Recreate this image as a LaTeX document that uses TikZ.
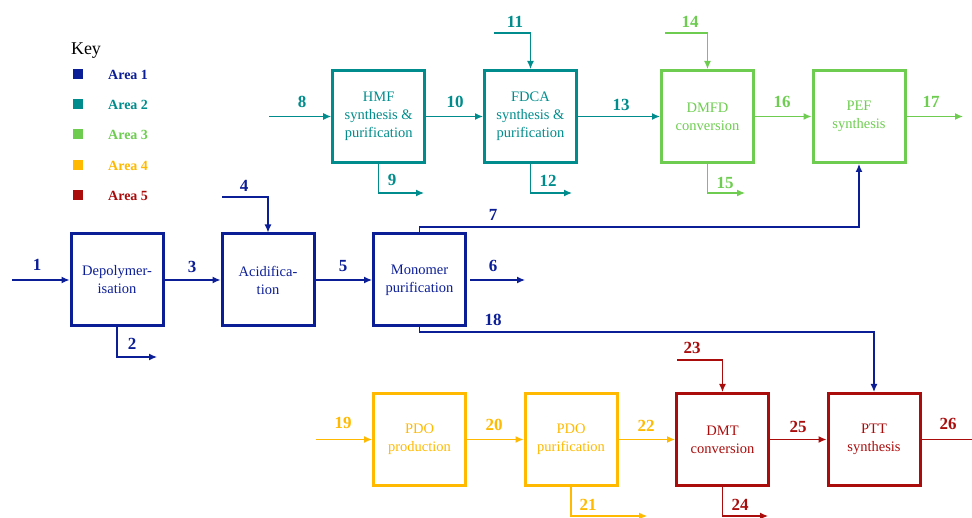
\documentclass[tikz,border=0pt]{standalone}
\usepackage{fontspec}
\setmainfont{Liberation Serif}
\usetikzlibrary{arrows.meta}
\definecolor{aone}{RGB}{12,30,150}
\definecolor{atwo}{RGB}{0,140,140}
\definecolor{athree}{RGB}{110,205,80}
\definecolor{afour}{RGB}{255,185,0}
\definecolor{afive}{RGB}{170,12,12}
\begin{document}
\begin{tikzpicture}[x=1pt,y=-1pt,
 box/.style={draw, line width=3pt, minimum width=92pt, minimum height=92pt, inner sep=0pt, align=center, font=\fontsize{14.5}{18}\selectfont},
 flow/.style={line width=1.3pt, -{Latex[length=8pt,width=7pt]}},
 plain/.style={line width=1.3pt},
 lab/.style={font=\fontsize{17}{17}\selectfont\bfseries, inner sep=0pt},
 keysq/.style={minimum size=10pt, inner sep=0pt, fill, draw=none},
 keytxt/.style={font=\fontsize{14}{14}\selectfont\bfseries, anchor=west, inner sep=0pt}]
\useasboundingbox (0,0) rectangle (972,518);

% Key
\node[font=\fontsize{18}{18}\selectfont, inner sep=0pt] (key) at (86,51) {Key};
\node[keysq, fill=aone] (k1) at (78,74) {};
\node[keysq, fill=atwo] (k2) at (78,104) {};
\node[keysq, fill=athree] (k3) at (78,134) {};
\node[keysq, fill=afour] (k4) at (78,165) {};
\node[keysq, fill=afive] (k5) at (78,195) {};
\node[keytxt, text=aone] (t1) at (108,75) {Area 1};
\node[keytxt, text=atwo] (t2) at (108,105) {Area 2};
\node[keytxt, text=athree] (t3) at (108,135) {Area 3};
\node[keytxt, text=afour] (t4) at (108,166) {Area 4};
\node[keytxt, text=afive] (t5) at (108,196) {Area 5};

% Boxes
\node[box, draw=aone, text=aone] (dep) at (117,280) {Depolymer-\\isation};
\node[box, draw=aone, text=aone] (acid) at (268,280) {Acidifica-\\tion};
\node[box, draw=aone, text=aone] (mono) at (419.5,280) {Monomer\\purification};
\node[box, draw=atwo, text=atwo] (hmf) at (378.7,116.5) {HMF\\synthesis \&\\purification};
\node[box, draw=atwo, text=atwo] (fdca) at (530.5,116.5) {FDCA\\synthesis \&\\purification};
\node[box, draw=athree, text=athree] (dmfd) at (707.5,116.5) {DMFD\\conversion};
\node[box, draw=athree, text=athree] (pef) at (859,116.5) {PEF\\synthesis};
\node[box, draw=afour, text=afour] (pdop) at (419.5,439.5) {PDO\\production};
\node[box, draw=afour, text=afour] (pdopur) at (571,439.5) {PDO\\purification};
\node[box, draw=afive, text=afive] (dmt) at (722.5,439.5) {DMT\\conversion};
\node[box, draw=afive, text=afive] (ptt) at (874,439.5) {PTT\\synthesis};

% Coordinates
\coordinate (s1) at (12,280);
\coordinate (e2) at (157,357);
\coordinate (s4) at (222,197);
\coordinate (e6) at (525,280);
\coordinate (c7) at (419.5,227);
\coordinate (c18) at (419.5,332);
\coordinate (s8) at (269,116.5);
\coordinate (e9) at (424,193);
\coordinate (s11) at (494,33);
\coordinate (e12) at (572,193);
\coordinate (s14) at (665,33);
\coordinate (e15) at (745,193);
\coordinate (e17) at (963,116.5);
\coordinate (s19) at (316,439.5);
\coordinate (e21) at (647,516);
\coordinate (s23) at (677,360);
\coordinate (e24) at (768,516);
\coordinate (e26) at (972,439.5);

% Area 1 flows
\draw[flow, aone] (s1) -- (dep);
\draw[flow, aone] (dep.south) |- (e2);
\draw[flow, aone] (dep) -- (acid);
\draw[flow, aone] (s4) -| (acid.north);
\draw[flow, aone] (acid) -- (mono);
\draw[flow, aone] (mono.east) ++(3,0) -- (e6);
\draw[flow, aone] (mono.north) -- (c7) -| (pef.south);
\draw[flow, aone] (mono.south) -- (c18) -| (ptt.north);

% Area 2 flows
\draw[flow, atwo] (s8) -- (hmf);
\draw[flow, atwo] (hmf.south) |- (e9);
\draw[flow, atwo] (hmf) -- (fdca);
\draw[flow, atwo] (s11) -| (fdca.north);
\draw[flow, atwo] (fdca.south) |- (e12);
\draw[flow, atwo] (fdca) -- (dmfd);

% Area 3 flows
\draw[flow, athree] (s14) -| (dmfd.north);
\draw[flow, athree] (dmfd.south) |- (e15);
\draw[flow, athree] (dmfd) -- (pef);
\draw[flow, athree] (pef.east) -- (e17);

% Area 4 flows
\draw[flow, afour] (s19) -- (pdop);
\draw[flow, afour] (pdop) -- (pdopur);
\draw[flow, afour] (pdopur.south) |- (e21);
\draw[flow, afour] (pdopur) -- (dmt);

% Area 5 flows
\draw[flow, afive] (s23) -| (dmt.north);
\draw[flow, afive] (dmt.south) |- (e24);
\draw[flow, afive] (dmt) -- (ptt);
\draw[plain, afive] (ptt.east) -- (e26);

% Labels
\node[lab, text=aone] (l1) at (37,265) {1};
\node[lab, text=aone] (l2) at (132,344) {2};
\node[lab, text=aone] (l3) at (192,267) {3};
\node[lab, text=aone] (l4) at (244,186) {4};
\node[lab, text=aone] (l5) at (343,266) {5};
\node[lab, text=aone] (l6) at (493,266) {6};
\node[lab, text=aone] (l7) at (493,215) {7};
\node[lab, text=aone] (l18) at (493,320) {18};
\node[lab, text=atwo] (l8) at (302,102) {8};
\node[lab, text=atwo] (l9) at (392,180) {9};
\node[lab, text=atwo] (l10) at (455,102) {10};
\node[lab, text=atwo] (l11) at (515,22) {11};
\node[lab, text=atwo] (l12) at (548,181) {12};
\node[lab, text=atwo] (l13) at (621,105) {13};
\node[lab, text=athree] (l14) at (690,22) {14};
\node[lab, text=athree] (l15) at (725,183) {15};
\node[lab, text=athree] (l16) at (782,102) {16};
\node[lab, text=athree] (l17) at (931,102) {17};
\node[lab, text=afour] (l19) at (343,423) {19};
\node[lab, text=afour] (l20) at (494,425) {20};
\node[lab, text=afour] (l21) at (588,505) {21};
\node[lab, text=afour] (l22) at (646,426) {22};
\node[lab, text=afive] (l23) at (692,348) {23};
\node[lab, text=afive] (l24) at (740,505) {24};
\node[lab, text=afive] (l25) at (798,427) {25};
\node[lab, text=afive] (l26) at (948,424) {26};
\end{tikzpicture}
\end{document}
